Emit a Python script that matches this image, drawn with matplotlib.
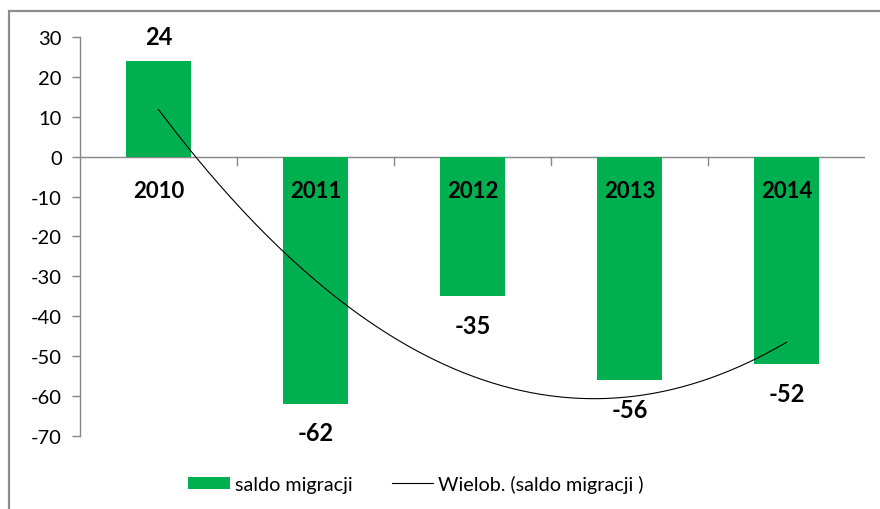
import matplotlib
matplotlib.use("Agg")
import matplotlib.pyplot as plt
import numpy as np
from matplotlib.lines import Line2D
from matplotlib.patches import Patch, Rectangle

years = ["2010", "2011", "2012", "2013", "2014"]
saldo = [24, -62, -35, -56, -52]
yticks = [30, 20, 10, 0, -10, -20, -30, -40, -50, -60, -70]

GREEN = "#00B050"
GRAY = "#868686"
FONT = "Lato"

plt.rcParams["font.family"] = [FONT, "DejaVu Sans"]

fig = plt.figure(figsize=(8.8, 5.1), dpi=100)
fig.patch.set_facecolor("white")
ax = fig.add_axes([80 / 880, 1 - 436.7 / 510, 785 / 880, 398.4 / 510])

x = np.arange(len(years))
ax.bar(x, saldo, width=0.41, color=GREEN, zorder=2)

# polynomial (2nd order) trend line, as in Excel
coef = np.polyfit(x + 1, saldo, 2)
xs = np.linspace(0, len(years) - 1, 200)
ax.plot(xs, np.polyval(coef, xs + 1), color="black", lw=0.8, zorder=3)

ax.set_xlim(-0.5, len(years) - 0.5)
ax.set_ylim(-70, 30)
ax.set_yticks(yticks)
ax.set_yticklabels([str(v) for v in yticks], fontsize=14.5)
ax.tick_params(axis="y", length=6, color=GRAY, width=1, pad=7)

for s in ["top", "right", "bottom"]:
    ax.spines[s].set_visible(False)
ax.spines["left"].set_color(GRAY)
ax.spines["left"].set_linewidth(1)

# horizontal axis at zero with ticks between categories
ax.axhline(0, color=GRAY, lw=1, zorder=1)
ax.set_xticks([])
for b in np.arange(0.5, len(years) - 0.5, 1.0):
    ax.plot([b, b], [0, -2.0], color=GRAY, lw=1, zorder=1)

# year labels just below zero line
for xi, yr in zip(x, years):
    ax.text(xi, -8.5, yr, ha="center", va="center", fontsize=16,
            fontweight="bold", color="black", zorder=4)

# value labels
for xi, v in zip(x, saldo):
    off = 18 if v > 0 else -21
    ax.annotate(str(v), (xi, v), xytext=(0, off), textcoords="offset points",
                ha="center", va="center", fontsize=17, fontweight="bold", zorder=4)

handles = [Patch(facecolor=GREEN, edgecolor="none"),
           Line2D([0], [0], color="black", lw=0.8)]
fig.legend(handles, ["saldo migracji", "Wielob. (saldo migracji )"],
           loc="center", bbox_to_anchor=(416 / 880, 1 - 485 / 510),
           ncol=2, frameon=False, fontsize=14.2, handlelength=2.1,
           handleheight=0.6, handletextpad=0.25, columnspacing=2.0)

# outer chart frame (cut off at right and bottom)
fig.add_artist(Rectangle((9 / 880, -0.1), 1.2, 1.1 - 12 / 510,
                         transform=fig.transFigure, fill=False,
                         edgecolor="#8c8c8c", lw=1.6, clip_on=False))

fig.savefig("out.png", dpi=100, facecolor="white")
